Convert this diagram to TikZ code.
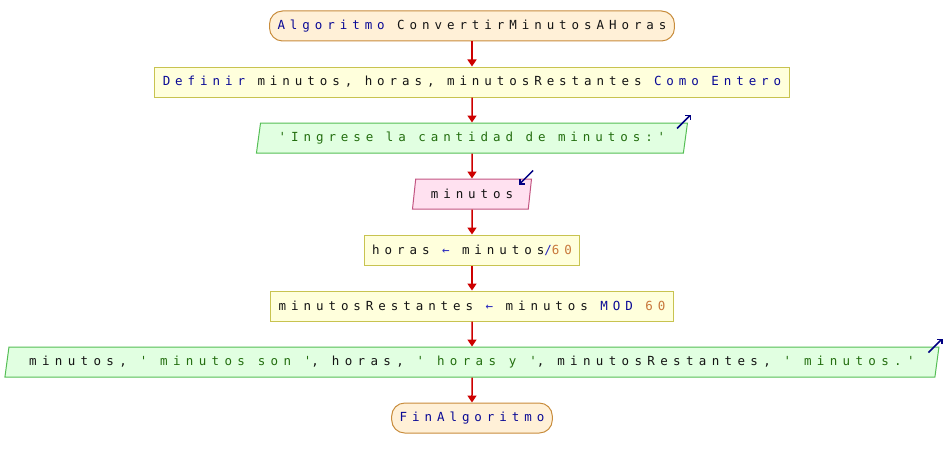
\documentclass[tikz,border=0pt]{standalone}
\usepackage{fontspec}
\setmonofont[LetterSpace=39.5]{DejaVu Sans Mono}
\usepackage{xcolor}
\usetikzlibrary{positioning,shapes.geometric,arrows.meta}

\definecolor{clave}{RGB}{10,10,150}
\definecolor{texto}{RGB}{20,20,20}
\definecolor{cadena}{RGB}{35,110,15}
\definecolor{numero}{RGB}{200,120,60}
\definecolor{operador}{RGB}{40,40,190}
\definecolor{fonInicio}{RGB}{255,240,215}
\definecolor{borInicio}{RGB}{200,140,60}
\definecolor{fonProceso}{RGB}{255,255,220}
\definecolor{borProceso}{RGB}{200,195,80}
\definecolor{fonSalida}{RGB}{225,255,225}
\definecolor{borSalida}{RGB}{85,190,85}
\definecolor{fonEntrada}{RGB}{255,225,240}
\definecolor{borEntrada}{RGB}{195,85,130}
\definecolor{flechaRoja}{RGB}{205,0,0}
\definecolor{azulIcono}{RGB}{0,0,130}

\begin{document}
\begin{tikzpicture}[x=1pt,y=-1pt,
		node distance=25pt,
		every node/.style={font=\ttfamily\fontsize{12.5}{14}\selectfont,text=texto,
			minimum height=30pt,inner xsep=8pt,inner ysep=0pt,line width=1pt},
		inicio/.style={draw=borInicio,fill=fonInicio,rounded corners=13pt},
		proceso/.style={draw=borProceso,fill=fonProceso},
		salida/.style={trapezium,trapezium left angle=71.6,trapezium right angle=108.4,
			trapezium stretches body,draw=borSalida,fill=fonSalida},
		entrada/.style={trapezium,trapezium left angle=71.6,trapezium right angle=108.4,
			trapezium stretches body,draw=borEntrada,fill=fonEntrada},
		flecha/.style={draw=flechaRoja,line width=1.5pt,-{Triangle[length=7pt,width=9pt]}},
		icono/.style={draw=azulIcono,line width=1.5pt,-{Straight Barb[length=3.5pt,width=7pt]}}
	]
	\useasboundingbox (0,0) rectangle (944,460);

	% bloques del diagrama
	\node[inicio] (ini) at (472,26) {\textcolor{clave}{Algoritmo} ConvertirMinutosAHoras};
	\node[proceso,below=of ini] (def) {\textcolor{clave}{Definir} minutos, horas, minutosRestantes \textcolor{clave}{Como Entero}};
	\node[salida,minimum width=431pt,below=of def] (msj) {\textcolor{cadena}{'Ingrese la cantidad de minutos:'}};
	\node[entrada,minimum width=119pt,below=of msj] (lee) {minutos};
	\node[proceso,below=of lee] (hor) {horas \textcolor{operador}{←} minutos\textcolor{operador}{/}\textcolor{numero}{60}};
	\node[proceso,below=of hor] (res) {minutosRestantes \textcolor{operador}{←} minutos \textcolor{clave}{MOD} \textcolor{numero}{60}};
	\node[salida,minimum width=934pt,below=of res,
		font=\ttfamily\fontsize{12.5}{14}\selectfont\addfontfeature{LetterSpace=42.8}] (esc)
		{minutos, \textcolor{cadena}{' minutos son '}, horas, \textcolor{cadena}{' horas y '}, minutosRestantes, \textcolor{cadena}{' minutos.'}};
	\node[inicio,below=of esc] (fin) {\textcolor{clave}{FinAlgoritmo}};

	% flechas
	\draw[flecha] (ini) -- (def);
	\draw[flecha] (def) -- (msj);
	\draw[flecha] (msj) -- (lee);
	\draw[flecha] (lee) -- (hor);
	\draw[flecha] (hor) -- (res);
	\draw[flecha] (res) -- (esc);
	\draw[flecha] (esc) -- (fin);

	% iconos de entrada/salida
	\draw[icono] ([shift={(-11,6)}]msj.top right corner) -- ++(14,-14);
	\draw[icono] ([shift={(1,-8)}]lee.top right corner) -- ++(-14,14);
	\draw[icono] ([shift={(-11,6)}]esc.top right corner) -- ++(14,-14);
\end{tikzpicture}
\end{document}
